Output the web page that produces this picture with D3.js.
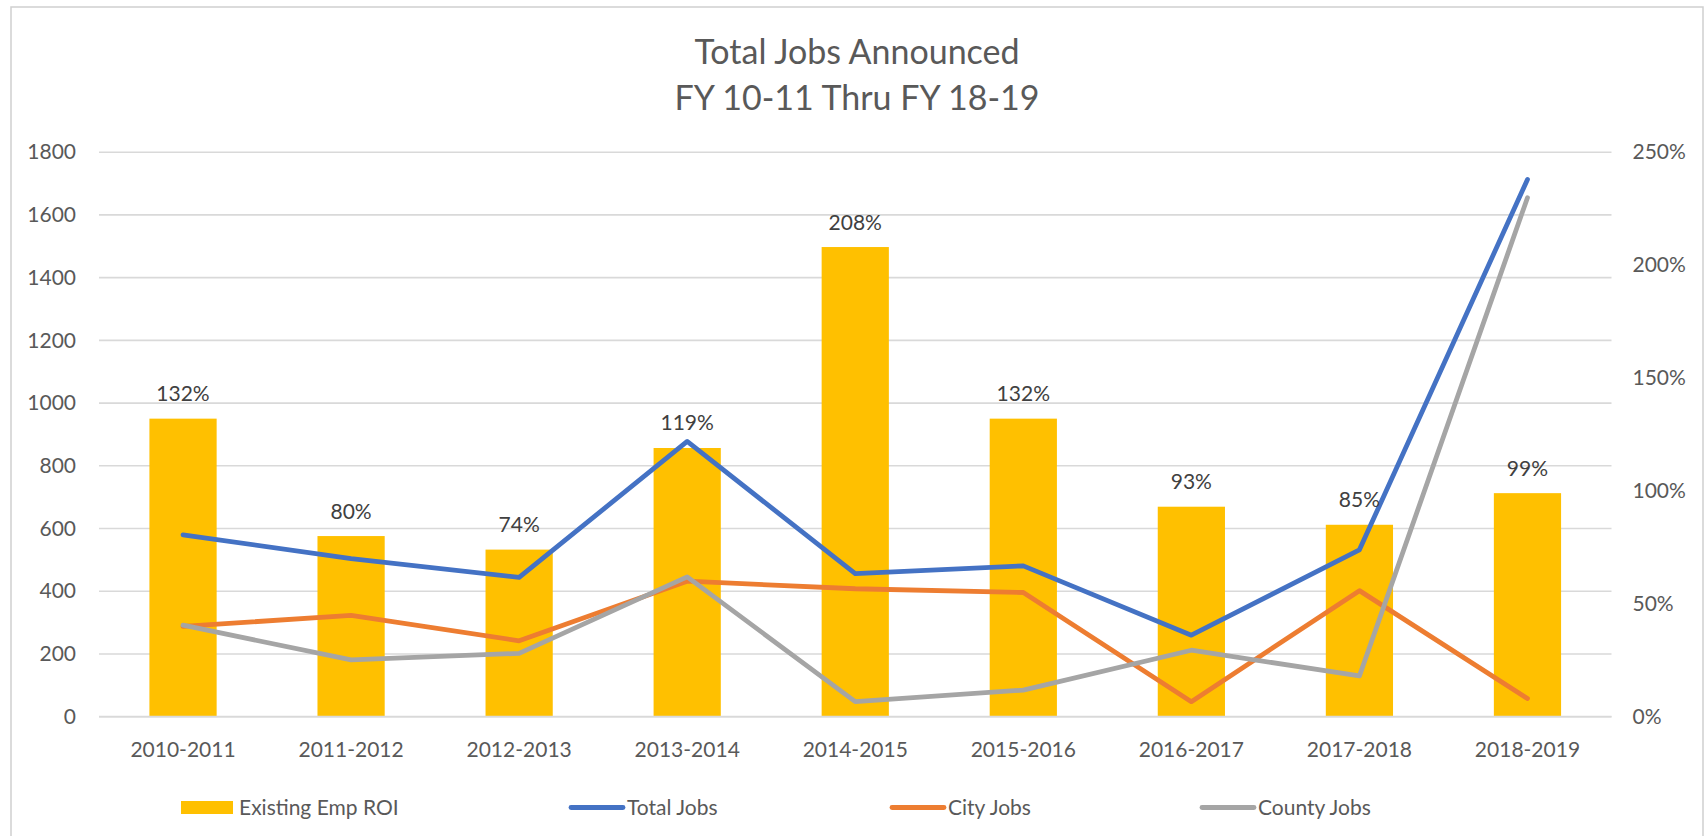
<!DOCTYPE html>
<html>
<head>
<meta charset="utf-8">
<script src="https://cdn.jsdelivr.net/npm/d3@7/dist/d3.min.js"></script>
<style>
  html, body { margin: 0; padding: 0; background: #ffffff; }
  svg { display: block; font-family: Lato, "Open Sans", sans-serif; }
</style>
</head>
<body>
<svg id="chart" width="1705" height="836"></svg>
<script>
// Fiscal years on the category axis
const categories = ["2010-2011", "2011-2012", "2012-2013", "2013-2014", "2014-2015",
                    "2015-2016", "2016-2017", "2017-2018", "2018-2019"];
// Existing employer ROI (right axis, fraction of 1)
const roiValues = [1.32, 0.80, 0.74, 1.19, 2.08, 1.32, 0.93, 0.85, 0.99];
// Job counts (left axis)
const totalJobs = [580, 504, 444, 878, 456, 481, 260, 532, 1713];
const cityJobs = [288, 323, 242, 432, 408, 396, 48, 402, 58];
const countyJobs = [292, 181, 202, 446, 48, 85, 212, 130, 1655];
// Axis ticks
const leftTicks = [0, 200, 400, 600, 800, 1000, 1200, 1400, 1600, 1800];
const rightTicks = [0, 0.5, 1.0, 1.5, 2.0, 2.5];
const titleLines = ["Total Jobs Announced", "FY 10-11 Thru FY 18-19"];

const svg = d3.select("#chart");
const plot = { left: 99, right: 1611.5, top: 152.2, bottom: 716.7 };

const x = d3.scaleBand().domain(categories)
  .range([plot.left, plot.right]).paddingInner(0.6).paddingOuter(0.3);
const yLeft = d3.scaleLinear().domain([0, 1800]).range([plot.bottom, plot.top]);
const yRight = d3.scaleLinear().domain([0, 2.5]).range([plot.bottom, plot.top]);
const cx = c => x(c) + x.bandwidth() / 2;

const textGrey = "#595959";

// Chart frame
svg.append("rect")
  .attr("x", 11).attr("y", 7).attr("width", 1692).attr("height", 860)
  .attr("fill", "#ffffff").attr("stroke", "#cfcfcf").attr("stroke-width", 1.5);

// Title
svg.append("g").selectAll("text").data(titleLines).join("text")
  .attr("x", 857).attr("y", (d, i) => 64 + i * 46)
  .attr("text-anchor", "middle")
  .attr("fill", textGrey).attr("font-size", 34)
  .text(d => d);

// Horizontal gridlines
svg.append("g").selectAll("line").data(leftTicks).join("line")
  .attr("x1", plot.left).attr("x2", plot.right)
  .attr("y1", d => yLeft(d)).attr("y2", d => yLeft(d))
  .attr("stroke", "#d9d9d9").attr("stroke-width", 1.6);

// Left axis
const leftAxis = svg.append("g")
  .attr("transform", `translate(${plot.left},0)`)
  .call(d3.axisLeft(yLeft).tickValues(leftTicks).tickSize(0).tickPadding(23)
    .tickFormat(d3.format("d")));
leftAxis.select(".domain").remove();
leftAxis.selectAll("text").attr("fill", textGrey).attr("font-size", 21)
  .attr("font-family", "Lato, sans-serif");

// Right axis
const rightAxis = svg.append("g")
  .attr("transform", `translate(${plot.right},0)`)
  .call(d3.axisRight(yRight).tickValues(rightTicks).tickSize(0).tickPadding(21)
    .tickFormat(d3.format(".0%")));
rightAxis.select(".domain").remove();
rightAxis.selectAll("text").attr("fill", textGrey).attr("font-size", 21)
  .attr("font-family", "Lato, sans-serif");

// Category axis
const bottomAxis = svg.append("g")
  .attr("transform", `translate(0,${plot.bottom})`)
  .call(d3.axisBottom(x).tickSize(0).tickPadding(25));
bottomAxis.select(".domain").remove();
bottomAxis.selectAll("text").attr("fill", textGrey).attr("font-size", 21)
  .attr("font-family", "Lato, sans-serif");

// ROI bars
svg.append("g").selectAll("rect").data(categories).join("rect")
  .attr("x", d => x(d))
  .attr("width", x.bandwidth())
  .attr("y", (d, i) => yRight(roiValues[i]))
  .attr("height", (d, i) => plot.bottom - yRight(roiValues[i]))
  .attr("fill", "#FFC000");

// Baseline of the category axis
svg.append("line")
  .attr("x1", plot.left).attr("x2", plot.right)
  .attr("y1", yLeft(0)).attr("y2", yLeft(0))
  .attr("stroke", "#d9d9d9").attr("stroke-width", 1.8);

// Job lines
const seriesList = [
  { name: "Total Jobs", values: totalJobs, color: "#4472C4" },
  { name: "City Jobs", values: cityJobs, color: "#ED7D31" },
  { name: "County Jobs", values: countyJobs, color: "#A5A5A5" }
];
const lineGen = d3.line().x((d, i) => cx(categories[i])).y(d => yLeft(d));
svg.append("g").selectAll("path").data(seriesList).join("path")
  .attr("d", s => lineGen(s.values))
  .attr("fill", "none")
  .attr("stroke", s => s.color)
  .attr("stroke-width", 4.8)
  .attr("stroke-linecap", "round")
  .attr("stroke-linejoin", "round");

// ROI data labels
svg.append("g").selectAll("text").data(categories).join("text")
  .attr("x", d => cx(d))
  .attr("y", (d, i) => yRight(roiValues[i]) - 17.5)
  .attr("text-anchor", "middle")
  .attr("fill", "#404040").attr("font-size", 21)
  .text((d, i) => d3.format(".0%")(roiValues[i]));

// Legend
const legendY = 807.5;
const legend = svg.append("g");
const legendItems = [
  { name: "Existing Emp ROI", type: "bar", color: "#FFC000", x: 181 },
  { name: "Total Jobs", type: "line", color: "#4472C4", x: 569 },
  { name: "City Jobs", type: "line", color: "#ED7D31", x: 890 },
  { name: "County Jobs", type: "line", color: "#A5A5A5", x: 1200 }
];
legendItems.forEach(item => {
  if (item.type === "bar") {
    legend.append("rect").attr("x", item.x).attr("y", legendY - 6.5)
      .attr("width", 52).attr("height", 13).attr("fill", item.color);
  } else {
    legend.append("line").attr("x1", item.x + 2).attr("x2", item.x + 54)
      .attr("y1", legendY).attr("y2", legendY)
      .attr("stroke", item.color).attr("stroke-width", 4.8)
      .attr("stroke-linecap", "round");
  }
  legend.append("text").attr("x", item.x + 58).attr("y", legendY)
    .attr("dy", "0.35em").attr("fill", textGrey).attr("font-size", 21)
    .text(item.name);
});
</script>
</body>
</html>
